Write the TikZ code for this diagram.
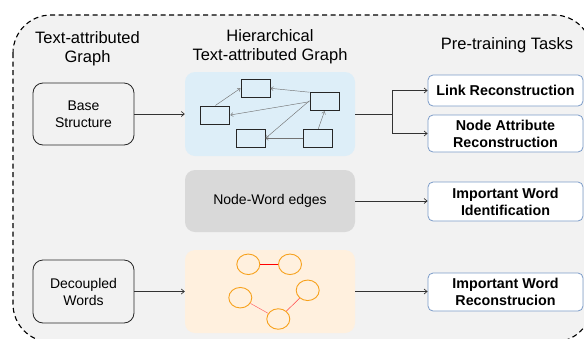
\documentclass[tikz,border=0pt]{standalone}
\usepackage{fontspec}
\setmainfont{Liberation Sans}
\usetikzlibrary{arrows.meta,shapes.geometric}
\definecolor{bgray}{HTML}{F2F2F2}
\definecolor{bluefill}{HTML}{DDEEF8}
\definecolor{grayfill}{HTML}{D9D9D9}
\definecolor{peach}{HTML}{FFF0DE}
\definecolor{taskedge}{HTML}{7C9CC9}
\definecolor{orng}{HTML}{F7A11C}
\definecolor{lnk}{HTML}{333333}
\tikzset{
  title/.style={align=center,font=\fontsize{16.5}{18.8}\selectfont,text=black},
  srcbox/.style={draw=black!85,line width=0.8pt,rounded corners=10pt,fill=bgray,
     minimum width=101pt,minimum height=62pt,align=center,
     font=\fontsize{14}{17}\selectfont},
  area/.style={draw=none,rounded corners=10pt,minimum width=170pt},
  task/.style={draw=taskedge,line width=0.8pt,fill=white,rounded corners=5pt,
     minimum width=155pt,align=center,font=\bfseries\fontsize{14.3}{17}\selectfont},
  mini/.style={draw=black!85,line width=1pt,fill=bluefill,minimum width=29pt,
     minimum height=18pt,inner sep=0pt},
  miniarr/.style={draw=black!55,line width=0.45pt,-{Straight Barb[length=2.5pt,width=4pt]}},
  word/.style={ellipse,draw=orng,line width=0.9pt,minimum width=23pt,minimum height=20.5pt,inner sep=0pt},
  conn/.style={draw=lnk,line width=0.7pt,-{Straight Barb[length=3pt,width=5pt]}},
}
\begin{document}
\begin{tikzpicture}[x=1pt,y=-1pt]
\useasboundingbox (0,0) rectangle (584,338);
\clip (0,0) rectangle (584,338);
\fill[white] (0,0) rectangle (584,338);
\draw[fill=bgray,line width=1.1pt,dash pattern=on 5pt off 3.5pt,rounded corners=38pt]
  (13,15) rectangle (592,342);

% titles
\node[title,anchor=base] (t1a) at (87.5,43) {Text-attributed};
\node[title,anchor=base] (t1b) at (87.5,62) {Graph};
\node[title,anchor=base] (t2a) at (270,41.5) {Hierarchical};
\node[title,anchor=base] (t2b) at (270,60) {Text-attributed Graph};
\node[title,anchor=base] (t3) at (507,49) {Pre-training Tasks};

% left boxes
\node[srcbox] (base) at (83.5,114) {Base\\Structure};
\node[srcbox,minimum height=63pt] (dec) at (83.5,291.5) {Decoupled\\Words};

% middle areas
\node[area,fill=bluefill,minimum height=84pt] (hier) at (270,114) {};
\node[area,fill=grayfill,minimum height=62pt,font=\fontsize{14}{17}\selectfont] (nw) at (270,201) {Node-Word edges};
\node[area,fill=peach,minimum height=83pt] (words) at (270,291.5) {};

% hierarchical mini graph
\node[mini] (r1) at (255.5,88.3) {};
\node[mini] (r2) at (215.3,115) {};
\node[mini] (r3) at (324.5,101.7) {};
\node[mini] (r4) at (250.5,138.3) {};
\node[mini] (r5) at (318.3,138.3) {};
\draw[miniarr] (r2.north) -- (r1.west);
\draw[miniarr] (r3.north west) -- (r1.east);
\draw[miniarr] (r3.west) -- (r2.east);
\draw[miniarr] ([yshift=1pt]r3.west) -- (r4.east);
\draw[miniarr] (r5.west) -- (r4.east);
\draw[miniarr] (r5.north) -- (r3.south);

% word graph
\node[word] (c1) at (248.3,264.3) {};
\node[word] (c2) at (290,264.3) {};
\node[word] (c3) at (240.3,297.7) {};
\node[word] (c4) at (278.3,319) {};
\node[word] (c5) at (307.7,290.3) {};
\draw[red,line width=0.9pt] (c1) -- (c2);
\draw[red!60,line width=0.5pt] (c3) -- (c4);
\draw[red!75,line width=0.5pt] (c4) -- (c5);

% tasks
\node[task,minimum height=31pt] (lr) at (505.5,90.5) {Link Reconstruction};
\node[task,minimum height=37pt] (nar) at (505.5,133.5) {Node Attribute\\Reconstruction};
\node[task,minimum height=39pt] (iwi) at (505.5,201.5) {Important Word\\Identification};
\node[task,minimum height=38pt] (iwr) at (505.5,292) {Important Word\\Reconstrucion};

% connectors
\coordinate (split) at (392,114);
\draw[conn] (base.east) -- (hier.west);
\draw[draw=lnk,line width=0.7pt] (hier.east) -- (split);
\draw[conn] (split) |- (lr.west);
\draw[conn] (split) |- (nar.west);
\draw[conn] (nw.east) -- (nw.east -| iwi.west);
\draw[conn] (dec.east) -- (dec.east -| words.west);
\draw[conn] (words.east) -- (words.east -| iwr.west);
\end{tikzpicture}
\end{document}
